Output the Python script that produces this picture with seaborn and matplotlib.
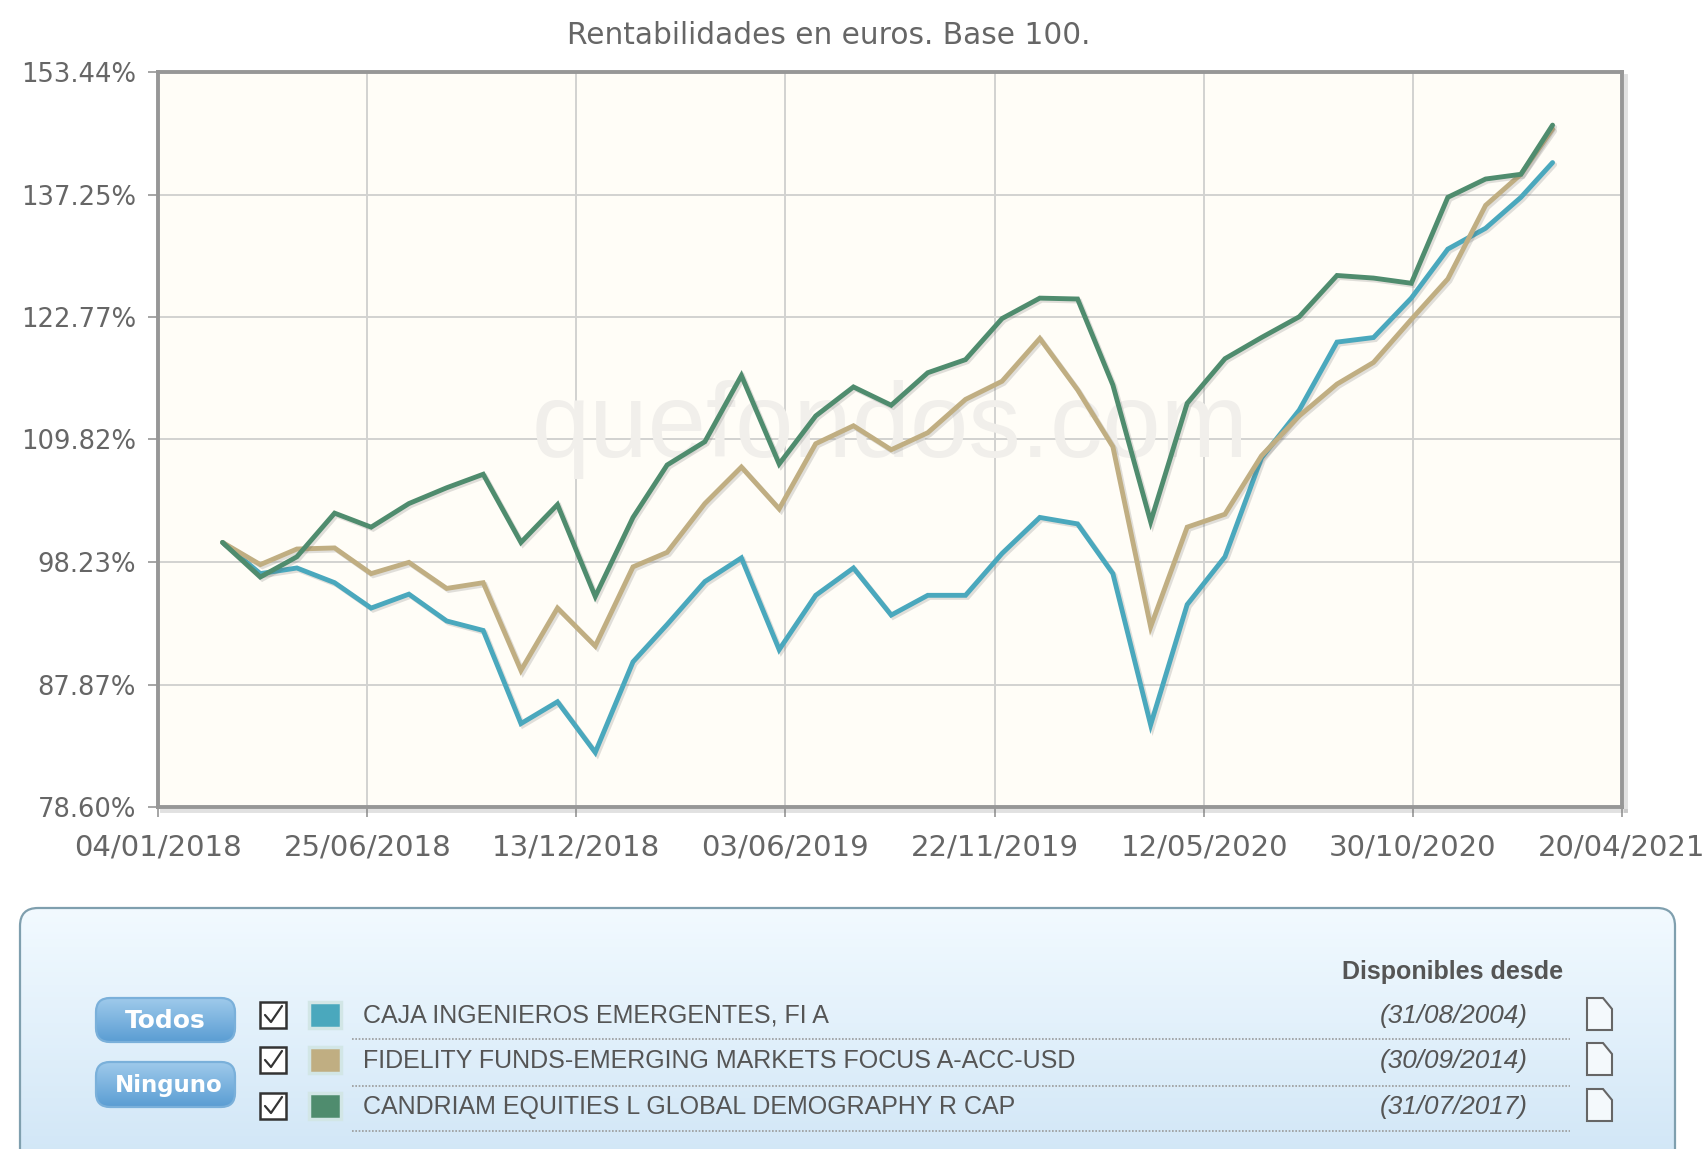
import numpy as np
import pandas as pd
import seaborn as sns
import matplotlib
matplotlib.use("Agg")
import matplotlib.pyplot as plt
import matplotlib.patheffects as pe
from matplotlib.patches import FancyBboxPatch, Rectangle, Polygon
from matplotlib.ticker import NullLocator

months = ["2018-02-26", "2018-03-29", "2018-04-28", "2018-05-29", "2018-06-28", "2018-07-29",
          "2018-08-29", "2018-09-28", "2018-10-29", "2018-11-28", "2018-12-29", "2019-01-29",
          "2019-02-26", "2019-03-29", "2019-04-28", "2019-05-29", "2019-06-28", "2019-07-29",
          "2019-08-29", "2019-09-28", "2019-10-29", "2019-11-28", "2019-12-29", "2020-01-29",
          "2020-02-27", "2020-03-29", "2020-04-28", "2020-05-29", "2020-06-28", "2020-07-29",
          "2020-08-29", "2020-09-28", "2020-10-29", "2020-11-28", "2020-12-29", "2021-01-27",
          "2021-02-22"]

caja = [100.0, 97.2, 97.7, 96.4, 94.2, 95.4, 93.1, 92.3, 84.8, 86.5, 82.6, 89.7,
        92.8, 96.5, 98.6, 90.7, 95.3, 97.7, 93.6, 95.3, 95.3, 99.0, 102.3, 101.7,
        97.2, 84.7, 94.5, 98.7, 108.0, 112.8, 120.0, 120.5, 124.9, 130.6, 133.1, 136.9, 141.3]
fidelity = [100.0, 98.0, 99.4, 99.5, 97.2, 98.2, 95.9, 96.4, 89.0, 94.2, 91.0, 97.8,
            99.1, 103.6, 107.1, 103.1, 109.4, 111.2, 108.8, 110.5, 113.9, 115.8, 120.4, 114.9,
            109.1, 92.6, 101.4, 102.6, 108.2, 112.2, 115.5, 117.8, 122.5, 127.1, 135.9, 139.8, 145.7]
candriam = [100.0, 96.9, 98.7, 102.7, 101.4, 103.6, 105.1, 106.4, 100.0, 103.5, 95.2, 102.3,
            107.3, 109.6, 116.4, 107.4, 112.2, 115.2, 113.3, 116.7, 118.1, 122.6, 124.9, 124.8,
            115.4, 101.9, 113.5, 118.2, 120.5, 122.8, 127.5, 127.2, 126.6, 136.9, 139.2, 139.8, 146.2]

fund_names = ["CAJA INGENIEROS EMERGENTES, FI A",
              "FIDELITY FUNDS-EMERGING MARKETS FOCUS A-ACC-USD",
              "CANDRIAM EQUITIES L GLOBAL DEMOGRAPHY R CAP"]
fund_since = ["(31/08/2004)", "(30/09/2014)", "(31/07/2017)"]
fund_colors = ["#4aa8bd", "#c0ae82", "#4f8c6e"]

y_ticks = [78.60, 87.87, 98.23, 109.82, 122.77, 137.25, 153.44]
y_labels = ["78.60%", "87.87%", "98.23%", "109.82%", "122.77%", "137.25%", "153.44%"]
x_labels = ["04/01/2018", "25/06/2018", "13/12/2018", "03/06/2019",
            "22/11/2019", "12/05/2020", "30/10/2020", "20/04/2021"]

W, H = 1706, 1149
TXT = "#666666"
sns.set_theme(style="white")
plt.rcParams["font.family"] = ["DejaVu Sans"]

fig = plt.figure(figsize=(W / 100, H / 100), dpi=100, facecolor="white")
L, R, T, B = 158, 1622, 72, 807
ax = fig.add_axes([L / W, 1 - B / H, (R - L) / W, (B - T) / H])
ax.set_facecolor("#fffdf7")

df = pd.DataFrame({"fecha": pd.to_datetime(months * 3),
                   "valor": caja + fidelity + candriam,
                   "fondo": np.repeat(fund_names, len(months))})
sns.lineplot(data=df, x="fecha", y="valor", hue="fondo", hue_order=fund_names,
             palette=fund_colors, estimator=None, linewidth=3.5, legend=False, ax=ax, zorder=5,
             path_effects=[pe.SimpleLineShadow(offset=(1.5, -1.5), alpha=0.18, shadow_color="#555555"),
                           pe.Normal()])
for ln in ax.get_lines():
    ln.set_solid_joinstyle("miter")

ax.set_yscale("log")
ax.set_ylim(y_ticks[0], y_ticks[-1])
ax.yaxis.set_minor_locator(NullLocator())
ax.set_yticks(y_ticks)
ax.set_yticklabels(y_labels)
xdates = pd.to_datetime(x_labels, format="%d/%m/%Y")
ax.set_xlim(xdates[0], xdates[-1])
ax.set_xticks(xdates)
ax.set_xticklabels(x_labels)
ax.set_xlabel("")
ax.set_ylabel("")
ax.grid(True, color="#d2d2d0", linewidth=1.4)
ax.set_axisbelow(True)
ax.tick_params(axis="both", length=7, width=1.4, color="#a5a5a5", labelcolor=TXT,
               bottom=True, left=True)
ax.tick_params(axis="x", labelsize=21, pad=12)
ax.tick_params(axis="y", labelsize=18.6, pad=9)
for name, s in ax.spines.items():
    s.set_color("#979797")
    s.set_linewidth(2.8)
    s.set_zorder(6)
    if name in ("right", "bottom"):
        s.set_path_effects([pe.SimpleLineShadow(offset=(3, -3), alpha=0.22, shadow_color="#777777"),
                            pe.Normal()])

ax.text(0.5, 0.513, "quefondos.com", transform=ax.transAxes, ha="center", va="center",
        fontsize=75.5, color="#f1efeb", family="Liberation Sans", zorder=1)

# Title and the panel below the chart, in a pixel-coordinate overlay
ov = fig.add_axes([0, 0, 1, 1], zorder=-1)
ov.set_axis_off()
ov.set_xlim(0, W)
ov.set_ylim(H, 0)
ov.text(829, 36, "Rentabilidades en euros. Base 100.", ha="center", va="center",
        fontsize=21.3, color=TXT)


def grad(x0, y0, x1, y1, c0, c1, radius, edge=None):
    patch = FancyBboxPatch((x0 + radius, y0 + radius), x1 - x0 - 2 * radius, y1 - y0 - 2 * radius,
                           boxstyle=f"round,pad={radius}", facecolor="none",
                           edgecolor=edge if edge else "none", linewidth=1.6, zorder=3)
    ov.add_patch(patch)
    a, b = np.array(matplotlib.colors.to_rgb(c0)), np.array(matplotlib.colors.to_rgb(c1))
    t = np.linspace(0, 1, 128)[:, None, None]
    im = ov.imshow(a[None, None, :] * (1 - t) + b[None, None, :] * t, extent=(x0, x1, y1, y0),
                   aspect="auto", zorder=2)
    im.set_clip_path(patch)


grad(20, 908, 1675, 1175, "#f2faff", "#cfe5f6", 18, edge="#7f9fae")

for (y0, y1, label, cx, fs) in [(998, 1042, "Todos", 165, 18), (1062, 1107, "Ninguno", 169, 16.5)]:
    grad(96, y0, 235, y1, "#9fcaeb", "#5a9dd3", 14, edge="#7ab0da")
    ov.text(cx, (y0 + y1) / 2 + 1, label, color="white", fontsize=fs, fontweight="bold",
            ha="center", va="center", zorder=5)

ov.text(1453, 972, "Disponibles desde", ha="center", va="center", fontsize=18,
        fontweight="bold", color="#555555", family="Liberation Sans", zorder=5)

rows = [(1015, 1039), (1060, 1086), (1106, 1131)]
for (yc, yl), name, since, col in zip(rows, fund_names, fund_since, fund_colors):
    ov.add_patch(Rectangle((260, yc - 13), 26, 26, facecolor="white", edgecolor="#333333",
                           linewidth=1.8, zorder=5))
    ov.plot([265, 271, 282], [yc, yc + 7, yc - 9], color="#333333", lw=1.6, zorder=6)
    ov.add_patch(Rectangle((309, yc - 13), 32, 26, facecolor=col, edgecolor="#d2e6e6",
                           linewidth=2.5, zorder=5))
    ov.text(363, yc + 1, name, ha="left", va="center", fontsize=18, color="#555555",
            family="Liberation Sans", zorder=5)
    ov.text(1528, yc + 1, since, ha="right", va="center", fontsize=18.8, color="#555555",
            family="Liberation Sans", style="italic", zorder=5)
    ov.plot([352, 1570], [yl, yl], color="#9a9a9a", lw=1.2, ls=(0, (1, 1)), zorder=5)
    ov.add_patch(Polygon([(1587, yc - 17), (1603, yc - 17), (1612, yc - 6), (1612, yc + 15),
                          (1587, yc + 15)], closed=True, facecolor="#f4f9fc",
                         edgecolor="#666666", linewidth=1.5, zorder=5))

ov.set_xlim(0, W)
ov.set_ylim(H, 0)
fig.savefig("out.png", dpi=100, facecolor="white")
